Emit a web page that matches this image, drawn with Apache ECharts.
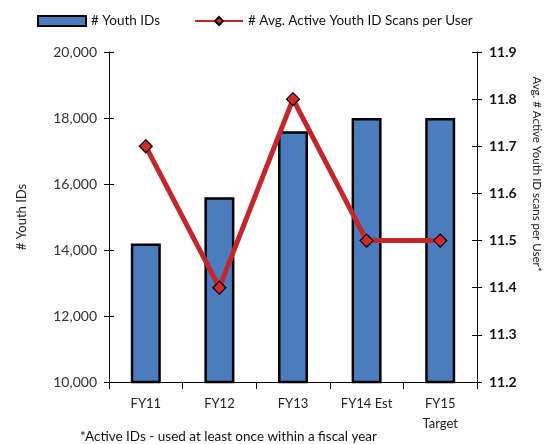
<!DOCTYPE html>
<html><head><meta charset="utf-8">
<script src="https://cdn.jsdelivr.net/npm/echarts@6/dist/echarts.min.js"></script>
<style>html,body{margin:0;padding:0;background:#fff}#c{width:548px;height:444px}</style>
</head><body><div id="c"></div>
<script>
const categories = ['FY11', 'FY12', 'FY13', 'FY14 Est', 'FY15\nTarget'];
const youthIDs = [14200, 15600, 17600, 18000, 18000];
const avgScans = [11.7, 11.4, 11.8, 11.5, 11.5];
const barName = '# Youth IDs';
const lineName = '# Avg. Active Youth ID Scans per User';
const leftTitle = '# Youth IDs';
const rightTitle = 'Avg. # Active Youth ID scans per User*';
const footnote = '*Active IDs - used at least once within a fiscal year';

const FONT = 'Lato, "Open Sans", sans-serif';
const chart = echarts.init(document.getElementById('c'));
const leftBase = {type:'value', min:10000, max:20000, interval:2000, position:'left'};
const rightBase = {type:'value', min:11.2, max:11.9, interval:0.1, position:'right'};
chart.setOption({
  animation:false,
  backgroundColor:'#fff',
  textStyle:{fontFamily:FONT},
  legend:{
    left:32, top:9, itemGap:34, itemWidth:48, itemHeight:10,
    textStyle:{fontSize:13.5, color:'#111', fontFamily:FONT},
    data:[{name:barName, icon:'rect'}, {name:lineName}]
  },
  grid:{left:109, right:71, top:52, bottom:62},
  xAxis:{
    type:'category', data:categories,
    axisLine:{lineStyle:{color:'#000', width:1}},
    axisTick:{show:true, length:7, lineStyle:{color:'#000'}},
    axisLabel:{fontSize:13, color:'#222', margin:12, lineHeight:20, fontFamily:FONT}
  },
  yAxis:[
    Object.assign({}, leftBase, {
      axisLine:{show:true, lineStyle:{color:'#000'}},
      axisTick:{show:true, length:5, lineStyle:{color:'#000'}},
      axisLabel:{fontSize:14, color:'#333', margin:12, fontFamily:FONT,
        formatter:v=>v.toLocaleString('en-US')},
      splitLine:{show:false}
    }),
    Object.assign({}, rightBase, {
      axisLine:{show:true, lineStyle:{color:'#000'}},
      axisTick:{show:true, length:5, lineStyle:{color:'#000'}},
      axisLabel:{fontSize:14, color:'#111', fontWeight:'bold', margin:12, fontFamily:FONT,
        formatter:v=>v.toFixed(1)},
      splitLine:{show:false}
    }),
    Object.assign({}, leftBase, {
      axisLine:{show:false}, axisLabel:{show:false}, splitLine:{show:false},
      axisTick:{show:true, inside:true, length:5, lineStyle:{color:'#000'}}
    }),
    Object.assign({}, rightBase, {
      axisLine:{show:false}, axisLabel:{show:false}, splitLine:{show:false},
      axisTick:{show:true, inside:true, length:5, lineStyle:{color:'#000'}}
    })
  ],
  series:[
    {name:barName, type:'bar', yAxisIndex:0, data:youthIDs, barWidth:30,
     itemStyle:{color:'#4a7cbe', borderColor:'#000', borderWidth:2.5}},
    {name:lineName, type:'line', yAxisIndex:1, data:avgScans,
     symbol:'diamond', symbolSize:13,
     lineStyle:{color:'#c4262b', width:5},
     itemStyle:{color:'#d12a2e', borderColor:'#000', borderWidth:1.2}}
  ],
  graphic:[
    {type:'text', x:22, y:217, rotation:Math.PI/2, style:{text:leftTitle, fontSize:13, fill:'#222', fontFamily:FONT, align:'center', verticalAlign:'middle'}},
    {type:'text', x:537, y:174, rotation:-Math.PI/2, style:{text:rightTitle, fontSize:11.5, fill:'#222', fontFamily:FONT, align:'center', verticalAlign:'middle'}},
    {type:'text', x:80, y:437, style:{text:footnote, fontSize:13.5, fill:'#111', fontFamily:FONT, align:'left', verticalAlign:'middle'}}
  ]
});
</script></body></html>
